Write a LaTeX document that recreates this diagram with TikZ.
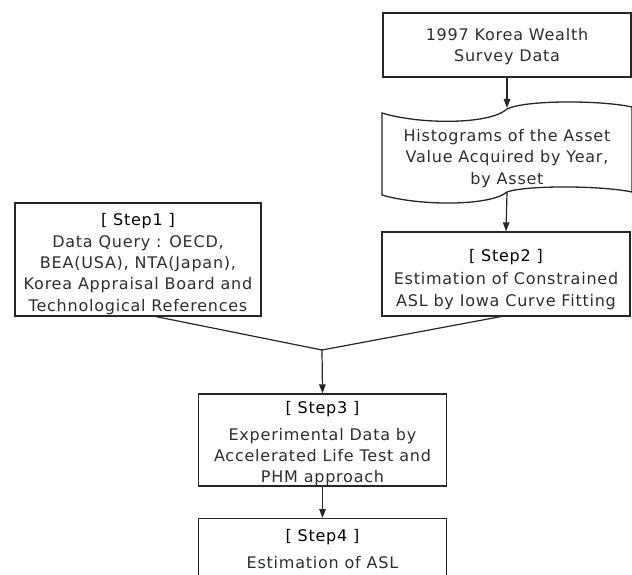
\documentclass[tikz,border=0pt]{standalone}
\usepackage{fontspec}
\setmainfont{DejaVu Sans}[LetterSpace=4.8]
\usetikzlibrary{arrows.meta,calc}
\newcommand\boxfont{\fontsize{16}{21.3}\selectfont}
\begin{document}
\begin{tikzpicture}[x=1pt,y=-1pt,
  box/.style={draw=black!85,line width=1.3pt,minimum width=248pt,inner sep=0pt},
  txt/.style={align=center,inner sep=0pt,font=\boxfont,text=black!82},
  arr/.style={draw=black!85,line width=1.2pt,-{Triangle[length=9pt,width=6.5pt]}},
  ln/.style={draw=black!85,line width=1.2pt}]
\useasboundingbox (0,0) rectangle (632,575);
\clip (0,0) rectangle (632,575);
\fill[white] (0,0) rectangle (632,575);

% top data box
\node[box,minimum height=64pt] (kw) at (507,45) {};
\node[txt] (kwt) at (507,46.5) {1997 Korea Wealth\\Survey Data};

% tape shaped box
\draw[draw=black!85,line width=1.3pt]
  (382,113) .. controls (420,124.7) and (490,124.7) .. (507,109)
  .. controls (525,100) and (600,100) .. (632,107)
  -- (632,192)
  .. controls (600,185.3) and (525,185.3) .. (507,192)
  .. controls (490,206.2) and (420,206.2) .. (382,195) -- cycle;
\coordinate (wtop) at (507,108);
\coordinate (wbot) at (507,192);
\node[txt] (hist) at (507,158.5) {Histograms of the Asset\\Value Acquired by Year,\\by Asset};

% step boxes
\node[box,minimum width=246pt,minimum height=113pt] (s1) at (138,259.5) {};
\node[txt] (s1t) at (138,264) {{\color{black}[ Step1 ]}\\Data Query : OECD,\\BEA(USA), NTA(Japan),\\Korea Appraisal Board and\\Technological References};

\node[box,minimum height=84pt] (s2) at (506,274) {};
\node[txt] (s2t) at (506,279.3) {{\color{black}[ Step2 ]}\\[2.5pt]Estimation of Constrained\\ASL by Iowa Curve Fitting};

\node[box,minimum height=92pt] (s3) at (322.5,440) {};
\node[txt] (s3t) at (322.5,443.5) {{\color{black}[ Step3 ]}\\[5.5pt]Experimental Data by\\Accelerated Life Test and\\PHM approach};

\node[box,minimum height=110pt,anchor=north] (s4) at (322.5,518) {};
\node[txt] (s4t) at (322.5,549) {{\color{black}[ Step4 ]}\\[6pt]Estimation of ASL};

% connectors
\coordinate (j) at (322,350);
\coordinate (s1b) at (153,316);
\coordinate (s2b) at (504,316);
\draw[arr] (kw.south) -- (wtop);
\draw[arr] (wbot) -- (s2.north);
\draw[ln] (s1b) -- (j);
\draw[ln] (s2b) -- (j);
\draw[arr] (j) -- (s3.north);
\draw[arr] (s3.south) -- (s4.north);
\end{tikzpicture}
\end{document}
